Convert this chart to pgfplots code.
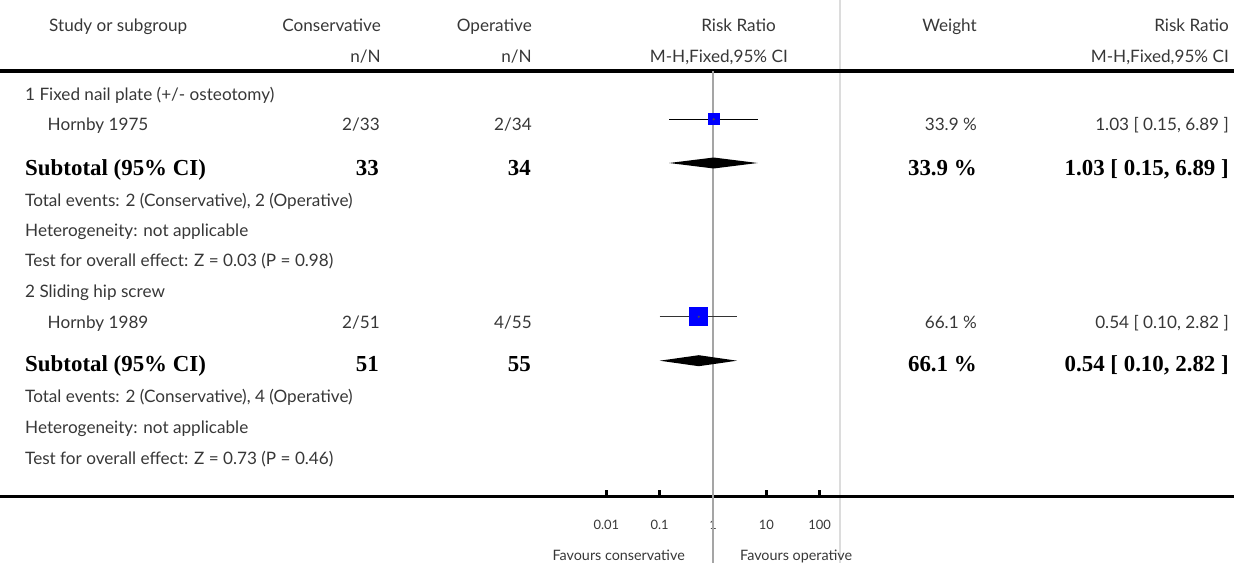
\documentclass[border=0pt]{standalone}
\usepackage{pgfplots}
\pgfplotsset{compat=1.18}
\usepackage{fontspec}
\setmainfont{Lato}
\newfontfamily\serifbold{Liberation Serif}[UprightFont=*, BoldFont=* Bold]

\definecolor{refgray}{RGB}{165,165,165}
\definecolor{sepgray}{RGB}{220,220,220}
\definecolor{txt}{RGB}{55,55,55}
\definecolor{boxblue}{RGB}{0,0,255}

% text helpers: position in pixels from the top-left corner, baseline anchored
\newcommand{\regtext}{\fontsize{17.2}{19}\selectfont}
\newcommand{\subtext}{\serifbold\bfseries\fontsize{23}{25}\selectfont}
\newcommand{\lt}[3]{\node[anchor=base west,inner sep=0pt,text=txt] at (#1bp,-#2bp) {\regtext #3};}
\newcommand{\rt}[3]{\node[anchor=base east,inner sep=0pt,text=txt] at (#1bp,-#2bp) {\regtext #3};}
\newcommand{\lb}[3]{\node[anchor=base west,inner sep=0pt] at (#1bp,-#2bp) {\subtext #3};}
\newcommand{\rb}[3]{\node[anchor=base east,inner sep=0pt] at (#1bp,-#2bp) {\subtext #3};}

\begin{document}
\begin{tikzpicture}
\useasboundingbox (0,0) rectangle (1234bp,-563bp);

% column separator and rules
\draw[sepgray, line width=1.4bp] (840bp,0) -- (840bp,-563bp);
\draw[black, line width=4bp] (0,-71bp) -- (1234bp,-71bp);
\draw[black, line width=3.8bp] (0,-496.5bp) -- (1234bp,-496.5bp);

% header
\lt{49}{31.7}{Study or subgroup}
\rt{381}{31.7}{Conservative}
\rt{532}{31.7}{Operative}
\rt{776}{31.7}{Risk Ratio}
\rt{977}{31.7}{Weight}
\rt{1229}{31.7}{Risk Ratio}
\rt{381}{62.5}{n/N}
\rt{532}{62.5}{n/N}
\rt{788}{62.5}{M-H,Fixed,95\% CI}
\rt{1229}{62.5}{M-H,Fixed,95\% CI}

% subgroup 1
\lt{25}{100}{1 Fixed nail plate (+/- osteotomy)}
\lt{47.5}{130.7}{Hornby 1975}
\rt{380}{130.7}{2/33}
\rt{532}{130.7}{2/34}
\rt{977}{130.7}{33.9 \%}
\rt{1229}{130.7}{1.03 [ 0.15, 6.89 ]}
\lb{25}{175}{Subtotal (95\% CI)}
\rb{379}{175}{33}
\rb{531}{175}{34}
\rb{977}{175}{33.9 \%}
\rb{1229}{175}{1.03 [ 0.15, 6.89 ]}
\lt{25}{206}{Total events: 2 (Conservative), 2 (Operative)}
\lt{25}{236.2}{Heterogeneity: not applicable}
\lt{25}{266.7}{Test for overall effect: Z = 0.03 (P = 0.98)}

% subgroup 2
\lt{25}{297.3}{2 Sliding hip screw}
\lt{47.5}{328.3}{Hornby 1989}
\rt{380}{328.3}{2/51}
\rt{532}{328.3}{4/55}
\rt{977}{328.3}{66.1 \%}
\rt{1229}{328.3}{0.54 [ 0.10, 2.82 ]}
\lb{25}{371.7}{Subtotal (95\% CI)}
\rb{379}{371.7}{51}
\rb{531}{371.7}{55}
\rb{977}{371.7}{66.1 \%}
\rb{1229}{371.7}{0.54 [ 0.10, 2.82 ]}
\lt{25}{402.7}{Total events: 2 (Conservative), 4 (Operative)}
\lt{25}{433.3}{Heterogeneity: not applicable}
\lt{25}{464.3}{Test for overall effect: Z = 0.73 (P = 0.46)}

% favours labels
\node[anchor=base east,inner sep=0pt,text=txt] at (685bp,-560bp) {\fontsize{14.4}{16}\selectfont Favours conservative};
\node[anchor=base west,inner sep=0pt,text=txt] at (740bp,-560bp) {\fontsize{14.4}{16}\selectfont Favours operative};

% forest plot panel (log risk ratio scale)
\begin{axis}[
  at={(580bp,-496.5bp)}, anchor=south west,
  scale only axis, width=260bp, height=496.5bp,
  xmode=log, xmin=0.003197, xmax=241.3,
  ymin=-496.5, ymax=0,
  clip=false,
  axis x line*=bottom, axis y line=none,
  axis line style={draw=none},
  xtick={0.01,0.1,1,10,100},
  xticklabels={0.01,0.1,1,10,100},
  xminorticks=false,
  tick align=inside,
  major tick length=7bp,
  every tick/.style={black, line width=2.6bp},
  xticklabel style={anchor=base, yshift=-33bp, text=txt, font=\fontsize{13}{14}\selectfont},
  /pgf/number format/assume math mode=true,
]
% line of no effect
\addplot[refgray, line width=1.5bp] coordinates {(1,-71) (1,-563)};

% confidence intervals of the studies
\addplot[black, line width=1.2bp] coordinates {(0.15,-119.3) (6.89,-119.3)};
\addplot[black!80, line width=1.2bp] coordinates {(0.10,-316.7) (2.82,-316.7)};

% study weights shown as squares
\addplot[boxblue, only marks, mark=square*, mark size=5.5bp, mark options={fill=boxblue, draw=boxblue, line width=0pt}]
  coordinates {(1.03,-119.3)};
\addplot[boxblue, only marks, mark=square*, mark size=9bp, mark options={fill=boxblue, draw=boxblue, line width=0pt}]
  coordinates {(0.54,-316.7)};
\addplot[black!70, only marks, mark=*, mark size=0.9bp, mark options={fill=black!70, draw=none}]
  coordinates {(1.03,-119.3) (0.54,-316.7)};

% pooled subtotals
\addplot[fill=black, draw=none] coordinates {(0.15,-163) (1.03,-157.5) (6.89,-163) (1.03,-168.5)} -- cycle;
\addplot[fill=black, draw=none] coordinates {(0.10,-360.7) (0.54,-355.2) (2.82,-360.7) (0.54,-366.2)} -- cycle;
\end{axis}
\end{tikzpicture}
\end{document}
